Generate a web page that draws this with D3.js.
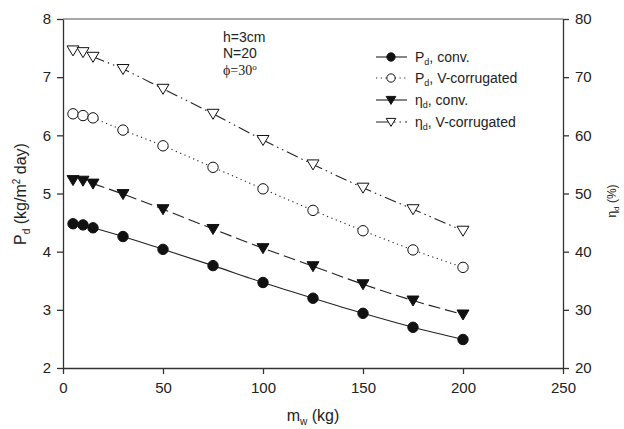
<!DOCTYPE html>
<html>
<head>
<meta charset="utf-8">
<script src="https://cdn.jsdelivr.net/npm/d3@7"></script>
<style>
  body { margin: 0; background: #fff; }
  text { font-family: Arial, "Liberation Sans", sans-serif; fill: #222; }
</style>
</head>
<body>
<div id="chart"></div>
<script>
// data
var massW = [5, 10, 15, 30, 50, 75, 100, 125, 150, 175, 200];
var pdConv = [4.48, 4.46, 4.41, 4.26, 4.04, 3.76, 3.47, 3.20, 2.94, 2.70, 2.49];
var pdVcorr = [6.37, 6.34, 6.30, 6.09, 5.82, 5.45, 5.08, 4.71, 4.36, 4.03, 3.73];
var etaConv = [52.3, 52.2, 51.7, 49.9, 47.3, 43.9, 40.6, 37.5, 34.4, 31.6, 29.2];
var etaVcorr = [74.6, 74.3, 73.5, 71.4, 68.0, 63.7, 59.2, 55.0, 51.0, 47.3, 43.6];
var xTicks = [0, 50, 100, 150, 200, 250];
var yLeftTicks = [2, 3, 4, 5, 6, 7, 8];
var yRightTicks = [20, 30, 40, 50, 60, 70, 80];

var svgWidth = 624;
var svgHeight = 429;
var margin = { top: 19, right: 61, bottom: 61, left: 63 };
var width = svgWidth - margin.left - margin.right;
var height = svgHeight - margin.top - margin.bottom;

var svg = d3.select("#chart")
    .append("svg")
    .attr("width", svgWidth)
    .attr("height", svgHeight);

var chartGroup = svg.append("g")
    .attr("transform", `translate(${margin.left}, ${margin.top})`);

var xScale = d3.scaleLinear().domain([0, 250]).range([0, width]);
var yLeft = d3.scaleLinear().domain([2, 8]).range([height, 0]);
var yRight = d3.scaleLinear().domain([20, 80]).range([height, 0]);

// top frame line
chartGroup.append("line")
    .attr("x1", 0).attr("x2", width)
    .attr("y1", 0).attr("y2", 0)
    .attr("stroke", "#888").attr("stroke-width", 1.5);

function styleAxis(g) {
    g.selectAll("path").attr("stroke", "#333").attr("stroke-width", 1.3);
    g.selectAll("line").attr("stroke", "#333").attr("stroke-width", 1.3);
    g.selectAll("text").attr("font-size", "15px").attr("fill", "#222")
        .style("font-family", "Arial, 'Liberation Sans', sans-serif");
}

var fmt = d3.format("d");

chartGroup.append("g")
    .attr("transform", `translate(0, ${height})`)
    .call(d3.axisBottom(xScale).tickValues(xTicks).tickFormat(fmt).tickSize(6).tickSizeOuter(0).tickPadding(8))
    .call(styleAxis);

chartGroup.append("g")
    .call(d3.axisLeft(yLeft).tickValues(yLeftTicks).tickFormat(fmt).tickSize(6).tickSizeOuter(0).tickPadding(6))
    .call(styleAxis);

chartGroup.append("g")
    .attr("transform", `translate(${width}, 0)`)
    .call(d3.axisRight(yRight).tickValues(yRightTicks).tickFormat(fmt).tickSize(6).tickSizeOuter(0).tickPadding(6))
    .call(styleAxis);

var series = [
    { values: pdConv, y: yLeft, dash: null, sym: "circle", fill: "#111" },
    { values: pdVcorr, y: yLeft, dash: "1.2,3.5", sym: "circle", fill: "#fff" },
    { values: etaConv, y: yRight, dash: "12,5", sym: "tri", fill: "#111" },
    { values: etaVcorr, y: yRight, dash: "12,4,1.5,4,1.5,4", sym: "tri", fill: "#fff" }
];

function drawSymbol(g, s, k) {
    if (s.sym === "circle") {
        g.append("circle").attr("r", 5.2 * k)
            .attr("fill", s.fill).attr("stroke", "#111").attr("stroke-width", 1);
    } else {
        g.append("path")
            .attr("d", `M${-6 * k},${-4.5 * k}L${6 * k},${-4.5 * k}L0,${5.5 * k}Z`)
            .attr("fill", s.fill).attr("stroke", "#111").attr("stroke-width", 1);
    }
}

series.forEach(function(s) {
    var pts = massW.map(function(m, i) { return [m, s.values[i]]; });
    var line = d3.line()
        .x(d => xScale(d[0]))
        .y(d => s.y(d[1]))
        .curve(d3.curveMonotoneX);
    chartGroup.append("path")
        .datum(pts.slice(2))
        .attr("d", line)
        .attr("fill", "none")
        .attr("stroke", "#222")
        .attr("stroke-width", 1.1)
        .attr("stroke-dasharray", s.dash);
    pts.forEach(function(d) {
        var g = chartGroup.append("g")
            .attr("transform", `translate(${xScale(d[0])}, ${s.y(d[1])})`);
        drawSymbol(g, s, 1);
    });
});

// legend
var legendItems = [
    { main: "P", sub: "d", rest: ", conv." },
    { main: "P", sub: "d", rest: ", V-corrugated" },
    { main: "\u03b7", sub: "d", rest: ", conv." },
    { main: "\u03b7", sub: "d", rest: ", V-corrugated" }
];
var legendY = [57, 78, 100, 122];
var legendDash = [null, "1.2,3.5", null, "14,4,1.5,4,1.5,4"];
legendItems.forEach(function(item, i) {
    var s = series[i];
    var y = legendY[i];
    svg.append("line")
        .attr("x1", 376).attr("x2", 407)
        .attr("y1", y).attr("y2", y)
        .attr("stroke", "#222").attr("stroke-width", 1.1)
        .attr("stroke-dasharray", legendDash[i]);
    var g = svg.append("g").attr("transform", `translate(391, ${y})`);
    drawSymbol(g, s, 0.8);
    var t = svg.append("text")
        .attr("x", 415).attr("y", y + 5)
        .attr("font-size", "14px");
    t.append("tspan").text(item.main);
    t.append("tspan").attr("font-size", "9px").attr("dy", 3).text(item.sub);
    t.append("tspan").attr("dy", -3).text(item.rest);
});

// annotations
svg.append("text").attr("x", 223).attr("y", 42).attr("font-size", "14px").text("h=3cm");
svg.append("text").attr("x", 223).attr("y", 58).attr("font-size", "14px").text("N=20");
var phi = svg.append("text").attr("x", 223).attr("y", 75)
    .attr("font-size", "14px")
    .style("font-family", "'Liberation Serif', 'Times New Roman', serif")
    .text("\u03d5=30");
phi.append("tspan").attr("font-size", "9px").attr("dy", -5).text("o");

// axis labels
var yLab = svg.append("text")
    .attr("transform", "translate(26, 194) rotate(-90)")
    .attr("text-anchor", "middle")
    .attr("font-size", "16px");
yLab.append("tspan").text("P");
yLab.append("tspan").attr("font-size", "10px").attr("dy", 4).text("d");
yLab.append("tspan").attr("dy", -4).text(" (kg/m");
yLab.append("tspan").attr("font-size", "10px").attr("dy", -6).text("2");
yLab.append("tspan").attr("dy", 6).text(" day)");

var y2Lab = svg.append("text")
    .attr("transform", "translate(616, 201) rotate(-90)")
    .attr("text-anchor", "middle")
    .attr("font-size", "12px");
y2Lab.append("tspan").text("\u03b7");
y2Lab.append("tspan").attr("font-size", "8px").attr("dy", 3).text("d");
y2Lab.append("tspan").attr("dy", -3).text(" (%)");

var xLab = svg.append("text")
    .attr("x", 313).attr("y", 421)
    .attr("text-anchor", "middle")
    .attr("font-size", "16px");
xLab.append("tspan").text("m");
xLab.append("tspan").attr("font-size", "10px").attr("dy", 4).text("w");
xLab.append("tspan").attr("dy", -4).text(" (kg)");
</script>
</body>
</html>
